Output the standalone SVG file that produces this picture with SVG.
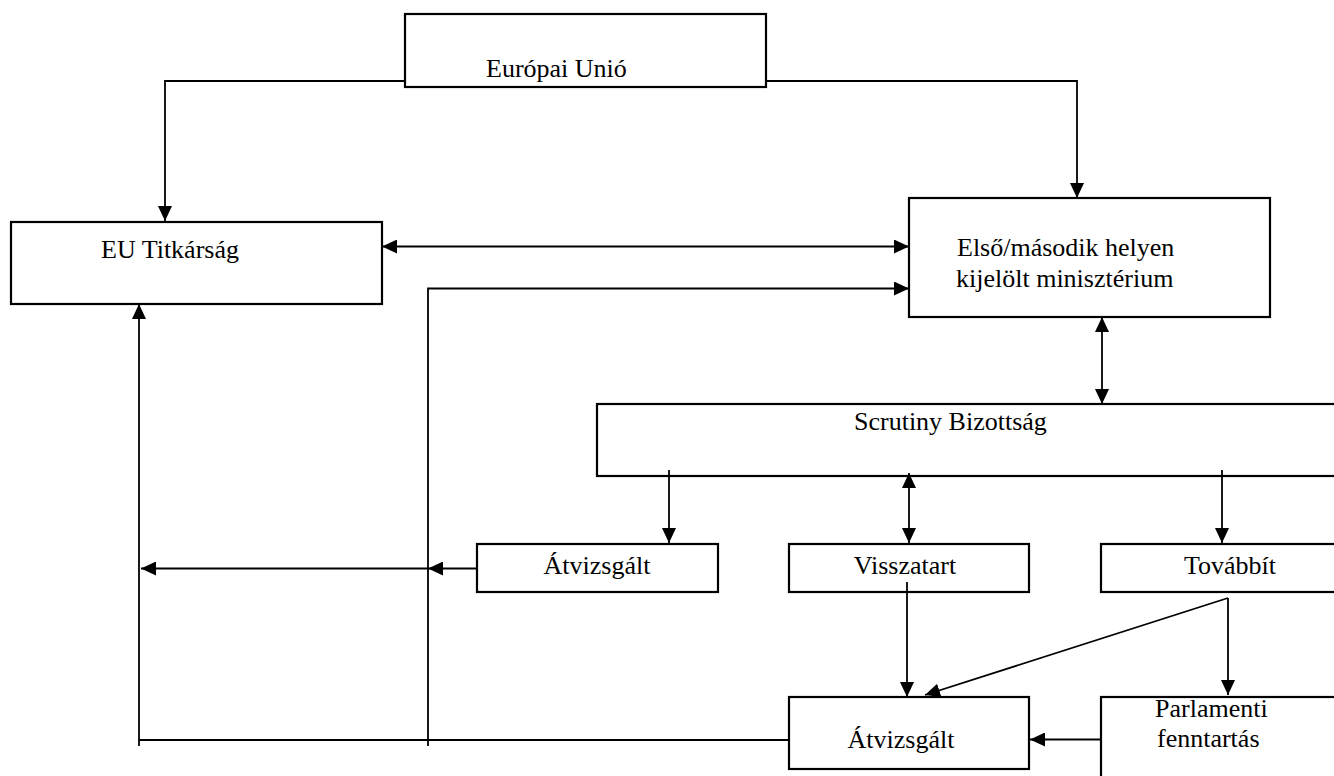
<svg xmlns="http://www.w3.org/2000/svg" width="1334" height="776" viewBox="0 0 1334 776">
<style>
.box{fill:#fff;stroke:#000;stroke-width:2.2}
.t{font-family:"Liberation Serif","Times New Roman",serif;font-size:26px;fill:#000}
.c{fill:none;stroke:#000;stroke-width:1.8}
</style>
<defs>
<marker id="ah" markerUnits="userSpaceOnUse" markerWidth="16" markerHeight="14" refX="15" refY="7" orient="auto-start-reverse">
<path d="M0,0 L15,7 L0,14 z" fill="#000"/>
</marker>
</defs>
<rect width="1334" height="776" fill="#fff"/>
<g id="eu">
<rect class="box" x="405" y="14" width="361" height="73"/>
<text class="t" x="486" y="77">Európai Unió</text>
</g>
<g id="titkarsag">
<rect class="box" x="11" y="222" width="371" height="82"/>
<text class="t" x="101" y="258">EU Titkárság</text>
</g>
<g id="miniszterium">
<rect class="box" x="909" y="198" width="361" height="119"/>
<text class="t" x="957" y="256">Első/második helyen</text>
<text class="t" x="956" y="287">kijelölt minisztérium</text>
</g>
<g id="scrutiny">
<rect class="box" x="597" y="404" width="800" height="72"/>
<text class="t" x="854" y="430">Scrutiny Bizottság</text>
</g>
<g id="atvizsgalt1">
<rect class="box" x="477" y="544" width="241" height="48"/>
<text class="t" x="597" y="574" text-anchor="middle">Átvizsgált</text>
</g>
<g id="visszatart">
<rect class="box" x="789" y="544" width="240" height="48"/>
<text class="t" x="905" y="574" text-anchor="middle">Visszatart</text>
</g>
<g id="tovabbit">
<rect class="box" x="1101" y="544" width="300" height="48"/>
<text class="t" x="1184" y="574">Továbbít</text>
</g>
<g id="atvizsgalt2">
<rect class="box" x="789" y="697" width="240" height="72"/>
<text class="t" x="901" y="748" text-anchor="middle">Átvizsgált</text>
</g>
<g id="parlamenti">
<rect class="box" x="1101" y="697" width="300" height="120"/>
<text class="t" x="1155" y="717">Parlamenti</text>
<text class="t" x="1157" y="747">fenntartás</text>
</g>
<g id="connectors">
<path class="c" d="M405,81 H165 V221" marker-end="url(#ah)"/>
<path class="c" d="M766,81 H1077 V198" marker-end="url(#ah)"/>
<path class="c" d="M382,246.5 H909" marker-start="url(#ah)" marker-end="url(#ah)"/>
<path class="c" d="M428,746 V288.5 H909" marker-end="url(#ah)"/>
<path class="c" d="M1102,317 V404" marker-start="url(#ah)" marker-end="url(#ah)"/>
<path class="c" d="M669,470 V543" marker-end="url(#ah)"/>
<path class="c" d="M909,473 V543" marker-start="url(#ah)" marker-end="url(#ah)"/>
<path class="c" d="M1222,470 V543" marker-end="url(#ah)"/>
<path class="c" d="M477,568.5 H428" marker-end="url(#ah)"/>
<path class="c" d="M428,568.5 H141" marker-end="url(#ah)"/>
<path class="c" d="M907,582 V697" marker-end="url(#ah)"/>
<path class="c" d="M1228,598 L925,695" marker-end="url(#ah)"/>
<path class="c" d="M1228,598 V695" marker-end="url(#ah)"/>
<path class="c" d="M1101,739.5 H1030" marker-end="url(#ah)"/>
<path class="c" d="M789,740 H139"/>
<path class="c" d="M139,746 V304" marker-end="url(#ah)"/>
</g>
</svg>
